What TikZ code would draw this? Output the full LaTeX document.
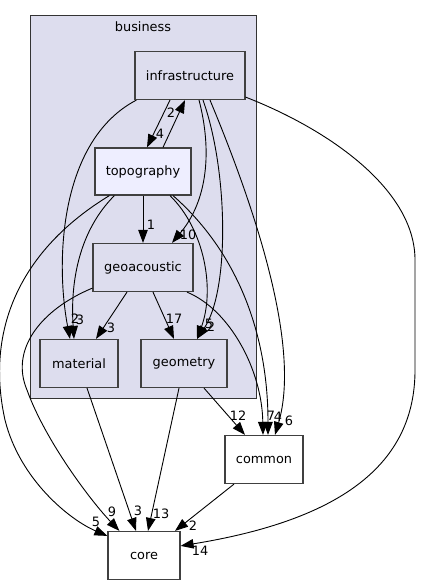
\documentclass[tikz,border=0pt]{standalone}
\usepackage{fontspec}
\setmainfont{DejaVu Sans}
\usepackage{tikz}
\usetikzlibrary{positioning, shapes.geometric, arrows.meta}
\definecolor{clusterfill}{HTML}{DDDDEE}
\definecolor{focusfill}{HTML}{EEEEFF}
\definecolor{boxline}{HTML}{404040}
\newcommand\dirfont{\fontsize{12.9}{15}\selectfont}
\tikzstyle{dir} = [rectangle, minimum height=48pt, text centered, draw=boxline, line width=1.2pt, fill=clusterfill, font=\dirfont]
\tikzstyle{outdir} = [dir, fill=white]
\tikzstyle{cluster} = [rectangle, minimum width=226pt, minimum height=382pt, draw=black!80, line width=1pt, fill=clusterfill]
\tikzstyle{cnt} = [inner sep=0pt, font=\dirfont]
\tikzstyle{arrow} = [line width=0.9pt, -{Triangle[length=13pt, width=9.5pt]}]
\def\lvl{96pt}

\begin{document}
\begin{tikzpicture}[x=1pt, y=-1pt, node distance=\lvl]
\useasboundingbox (0,0) rectangle (422,585);

\node (business) [cluster] at (143,207) {};
\node [cnt] at ([yshift=-10.7pt]business.north) {business};

\node (infra) [dir, minimum width=110pt] at (190,75.5) {infrastructure};
\node (topo) [dir, fill=focusfill, minimum width=96pt, minimum height=47pt, below of=infra, xshift=-47pt] {topography};
\node (geoac) [dir, minimum width=100pt, below of=topo] {geoacoustic};
\node (material) [dir, minimum width=78pt, below of=geoac, xshift=-64pt] {material};
\node (geometry) [dir, minimum width=86pt, below of=geoac, xshift=41pt] {geometry};
\node (common) [outdir, minimum width=78pt, below of=geometry, xshift=80pt] {common};
\node (core) [outdir, minimum width=72pt, below of=common, xshift=-120pt] {core};

% inside business
\draw [arrow] ([xshift=-20pt]infra.south) -- ([xshift=4pt]topo.north) node [cnt] at (160,134) {4};
\draw [arrow] ([xshift=20pt]topo.north) -- ([xshift=-5pt]infra.south) node [cnt] at (171,113) {2};
\draw [arrow] ([xshift=9pt]infra.south) .. controls (212,150) and (208,200) .. ([xshift=29pt]geoac.north) node [cnt] at (188,235) {10};
\draw [arrow] ([xshift=13pt]infra.south) .. controls (228,170) and (230,290) .. ([xshift=13pt]geometry.north) node [cnt] at (211,327) {2};
\draw [arrow] ([xshift=27pt]topo.south) .. controls (205,230) and (215,290) .. ([xshift=13pt]geometry.north) node [cnt] at (209,324) {5};
\draw [arrow] ([xshift=2pt]infra.south west) .. controls (60,140) and (55,260) .. ([xshift=-9pt]material.north) node [cnt] at (75,319) {2};
\draw [arrow] ([xshift=20pt]topo.south west) .. controls (80,230) and (70,280) .. ([xshift=-5pt]material.north) node [cnt] at (80,320) {3};
\draw [arrow] (topo) -- (geoac) node [cnt] at (151,225) {1};
\draw [arrow] ([xshift=-16pt]geoac.south) -- ([xshift=17pt]material.north) node [cnt] at (111,328) {3};
\draw [arrow] ([xshift=10pt]geoac.south) -- ([xshift=-10pt]geometry.north) node [cnt] at (174,319) {17};

% to common
\draw [arrow] ([xshift=44pt]geoac.south) .. controls (230,310) and (262,370) .. ([xshift=-1pt]common.north) node [cnt] at (271,416) {7};
\draw [arrow] ([xshift=30pt]topo.south) .. controls (235,250) and (268,330) .. ([xshift=4pt]common.north) node [cnt] at (278,417) {4};
\draw [arrow] ([xshift=20pt]infra.south) .. controls (260,220) and (300,350) .. ([xshift=11pt]common.north) node [cnt] at (289,421) {6};
\draw [arrow] ([xshift=20pt]geometry.south) -- ([xshift=-19pt]common.north) node [cnt] at (238,416) {12};

% to core
\draw [arrow] ([xshift=15pt]topo.south west) .. controls (20,250) and (-15,330) .. (5,420) .. controls (20,480) and (70,520) .. ([yshift=-5pt]core.north west) node [cnt] at (96,522) {5};
\draw [arrow] ([yshift=4pt]geoac.south west) .. controls (40,310) and (10,350) .. (27,390) .. controls (45,440) and (90,500) .. ([xshift=12pt]core.north west) node [cnt] at (112,512) {9};
\draw [arrow] ([xshift=8pt]material.south) -- ([xshift=-8pt]core.north) node [cnt] at (138,511) {3};
\draw [arrow] ([xshift=-5pt]geometry.south) -- ([xshift=4pt]core.north) node [cnt] at (161,514) {13};
\draw [arrow] ([xshift=-30pt]common.south) -- ([xshift=31pt]core.north) node [cnt] at (193,526) {2};
\draw [arrow] ([yshift=3pt]infra.south east) .. controls (330,130) and (415,190) .. (415,260) -- (415,370) .. controls (415,465) and (340,520) .. ([yshift=-15pt]core.north east) node [cnt] at (200,551) {14};

\end{tikzpicture}
\end{document}
